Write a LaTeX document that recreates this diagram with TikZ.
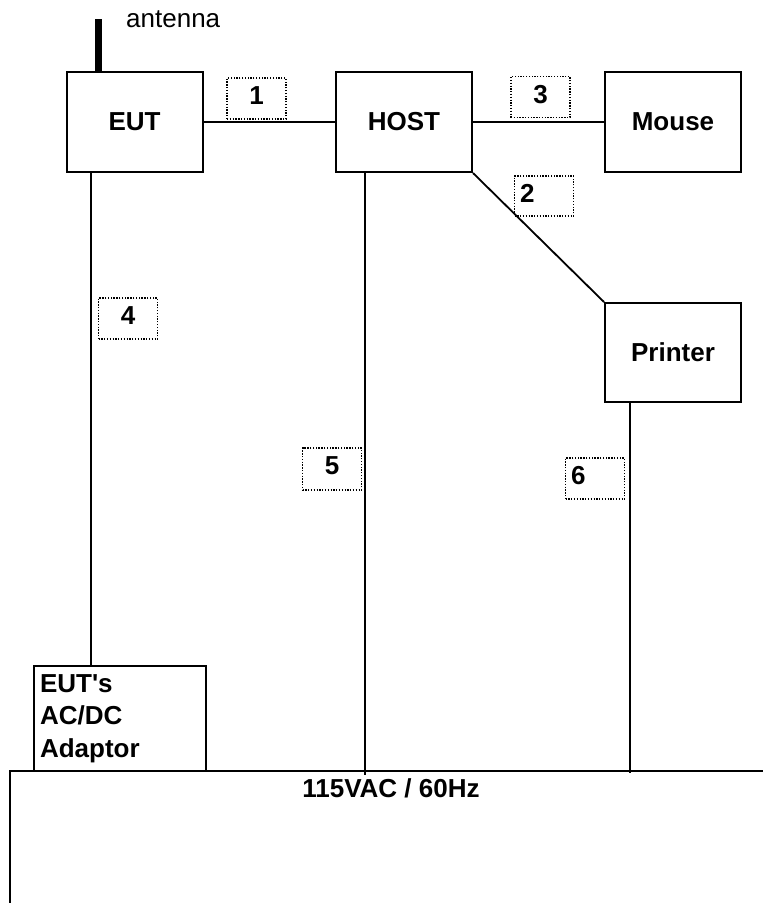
\documentclass[tikz,border=0pt]{standalone}
\usepackage{fontspec}
\setmainfont{Liberation Sans}[Ligatures=TeXOff]
\usetikzlibrary{calc}
\begin{document}
\begin{tikzpicture}[x=1pt,y=-1pt,
  every node/.style={font=\fontsize{26}{32.5}\selectfont},
  unit/.style={draw,line width=2pt,minimum width=136pt,minimum height=100pt,inner sep=0pt,font=\fontsize{26}{32.5}\selectfont\bfseries},
  tag/.style={draw,line width=1.4pt,dash pattern=on 1.3pt off 1.5pt,minimum width=59pt,minimum height=41pt,inner sep=0pt,text depth=6pt,font=\fontsize{26}{32.5}\selectfont\bfseries},
  tagl/.style={tag,text width=48pt,inner xsep=5.5pt,align=left},
  wire/.style={line width=1.8pt}]
\useasboundingbox (0,0) rectangle (763,903);
\fill[white] (0,0) rectangle (763,903);
% units
\node[unit] (eut) at (134.5,122) {EUT};
\node[unit] (host) at (404,122) {HOST};
\node[unit] (mouse) at (673,122) {Mouse};
\node[unit,minimum height=99pt] (printer) at (673,352.5) {Printer};
\node[unit,minimum width=172pt,minimum height=105pt,text width=160pt,inner xsep=6pt,align=left] (adaptor) at (120,718.5) {EUT's\\AC/DC\\Adaptor};
% antenna
\coordinate (antbase) at ($(eut.north west)+(33,0)$);
\coordinate (anttop) at ($(antbase)+(0,-52)$);
\draw[line width=7pt] (antbase) -- (anttop);
\node[anchor=base west,inner sep=0pt] (antlabel) at (126,27) {antenna};
% power line
\coordinate (plL) at (10,771);
\coordinate (plR) at (763,771);
\coordinate (plB) at (10,903);
\draw[wire] (plR) -- (plL) -- (plB);
\node[anchor=base,inner sep=0pt,font=\fontsize{26}{32.5}\selectfont\bfseries] (mains) at (391,797) {115VAC / 60Hz};
% cables
\draw[wire] (eut) -- (host);
\draw[wire] (host) -- (mouse);
\draw[wire] (host.south east) -- (printer.north west);
\coordinate (eutdrop) at ($(eut.south west)+(25.5,0)$);
\draw[wire] (eutdrop) -- (eutdrop |- adaptor.north);
\coordinate (hostdrop) at ($(host.south west)+(30,0)$);
\coordinate (hostend) at ($(hostdrop |- plL)+(0,4)$);
\draw[wire] (hostdrop) -- (hostend);
\coordinate (prdrop) at ($(printer.south west)+(26,0)$);
\coordinate (prend) at ($(prdrop |- plL)+(0,2)$);
\draw[wire] (prdrop) -- (prend);
% tags
\node[tag] (t1) at (256.5,98.5) {1};
\node[tag] (t3) at (540.5,97) {3};
\node[tagl,minimum height=40pt] (t2) at (544,196) {2};
\node[tag] (t4) at (128,318.5) {4};
\node[tag,minimum height=42pt] (t5) at (332,469) {5};
\node[tagl] (t6) at (595,478.5) {6};
\end{tikzpicture}
\end{document}
